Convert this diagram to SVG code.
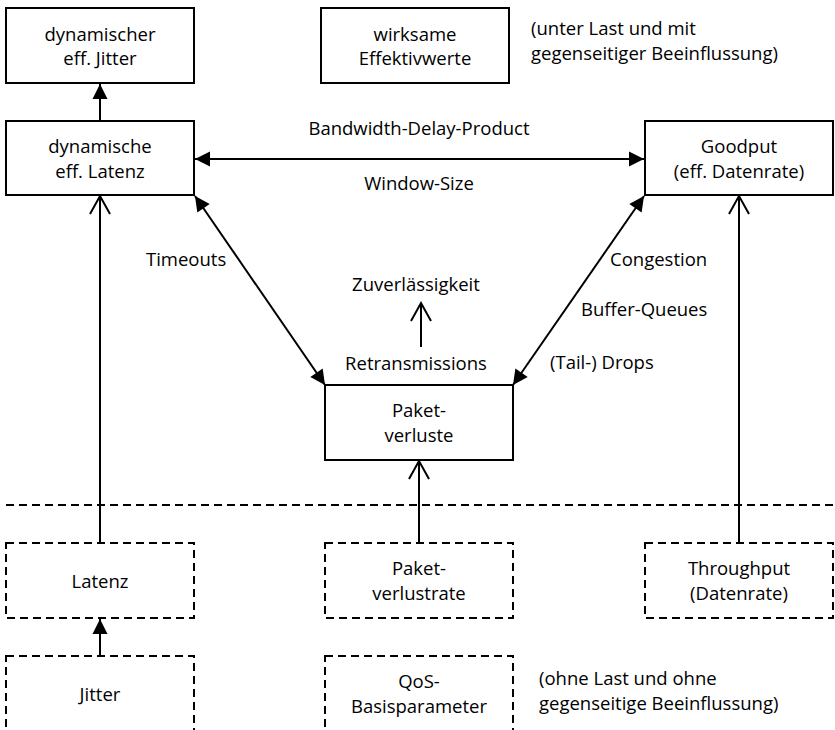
<svg xmlns="http://www.w3.org/2000/svg" width="835" height="730" viewBox="0 0 835 730">
  <style>
    text { font-family: "Open Sans", "Noto Sans", "Liberation Sans", sans-serif; font-size: 18.5px; fill: #000; }
    .c { text-anchor: middle; }
    .box { fill: #fff; stroke: #000; stroke-width: 2; }
    .dbox { fill: #fff; stroke: #000; stroke-width: 2; stroke-dasharray: 8 5; }
    .ln { fill: none; stroke: #000; stroke-width: 2; }
    .sep { fill: none; stroke: #000; stroke-width: 2; stroke-dasharray: 8 5; }
  </style>
  <defs>
    <marker id="filled" markerUnits="userSpaceOnUse" markerWidth="16" markerHeight="16" viewBox="0 0 16 16" refX="15" refY="8" orient="auto-start-reverse" overflow="visible">
      <path d="M0,0.5 L15,8 L0,15.5 z" fill="#000"/>
    </marker>
    <marker id="open" markerUnits="userSpaceOnUse" markerWidth="20" markerHeight="22" viewBox="0 0 20 22" refX="18" refY="11" orient="auto" overflow="visible">
      <path d="M0,1 L18,11 L0,21" fill="none" stroke="#000" stroke-width="2"/>
    </marker>
  </defs>

  <!-- separator between load-dependent and base parameters -->
  <line class="sep" x1="6" y1="505" x2="833" y2="505"/>

  <g id="connectors">
    <line class="ln" x1="100" y1="121" x2="100" y2="84" marker-end="url(#filled)"/>
    <line class="ln" x1="195" y1="159" x2="644" y2="159" marker-start="url(#filled)" marker-end="url(#filled)"/>
    <line class="ln" x1="195" y1="196" x2="325" y2="385" marker-start="url(#filled)" marker-end="url(#filled)"/>
    <line class="ln" x1="644" y1="196" x2="513" y2="385" marker-start="url(#filled)" marker-end="url(#filled)"/>
    <line class="ln" x1="421" y1="347" x2="421" y2="303" marker-end="url(#open)"/>
    <line class="ln" x1="100" y1="543" x2="100" y2="196" marker-end="url(#open)"/>
    <line class="ln" x1="419" y1="543" x2="419" y2="461" marker-end="url(#open)"/>
    <line class="ln" x1="739" y1="543" x2="739" y2="196" marker-end="url(#open)"/>
    <line class="ln" x1="100" y1="656" x2="100" y2="619" marker-end="url(#filled)"/>
  </g>

  <g id="labels">
    <text class="c" x="419" y="135">Bandwidth-Delay-Product</text>
    <text class="c" x="419" y="190">Window-Size</text>
    <text x="146" y="266">Timeouts</text>
    <text x="610" y="266">Congestion</text>
    <text x="581" y="316">Buffer-Queues</text>
    <text x="550" y="369">(Tail-) Drops</text>
    <text class="c" x="416" y="291">Zuverlässigkeit</text>
    <text class="c" x="416" y="370">Retransmissions</text>
    <text x="531" y="35">(unter Last und mit</text>
    <text x="531" y="60">gegenseitiger Beeinflussung)</text>
    <text x="539" y="685">(ohne Last und ohne</text>
    <text x="539" y="710">gegenseitige Beeinflussung)</text>
  </g>

  <g id="dyn-jitter">
    <rect class="box" x="6" y="8" width="188" height="75"/>
    <text class="c" x="100" y="41">dynamischer</text>
    <text class="c" x="100" y="65">eff. Jitter</text>
  </g>
  <g id="wirksame">
    <rect class="box" x="321" y="8" width="188" height="75"/>
    <text class="c" x="415" y="41">wirksame</text>
    <text class="c" x="415" y="65">Effektivwerte</text>
  </g>
  <g id="dyn-latenz">
    <rect class="box" x="6" y="121" width="188" height="74"/>
    <text class="c" x="100" y="153">dynamische</text>
    <text class="c" x="100" y="178">eff. Latenz</text>
  </g>
  <g id="goodput">
    <rect class="box" x="645" y="121" width="188" height="74"/>
    <text class="c" x="739" y="153">Goodput</text>
    <text class="c" x="739" y="178">(eff. Datenrate)</text>
  </g>
  <g id="paketverluste">
    <rect class="box" x="325" y="385" width="188" height="75"/>
    <text class="c" x="419" y="417">Paket-</text>
    <text class="c" x="419" y="442">verluste</text>
  </g>
  <g id="latenz">
    <rect class="dbox" x="6" y="543" width="188" height="75"/>
    <text class="c" x="100" y="588">Latenz</text>
  </g>
  <g id="paketverlustrate">
    <rect class="dbox" x="325" y="543" width="188" height="75"/>
    <text class="c" x="419" y="575">Paket-</text>
    <text class="c" x="419" y="600">verlustrate</text>
  </g>
  <g id="throughput">
    <rect class="dbox" x="645" y="543" width="188" height="75"/>
    <text class="c" x="739" y="575">Throughput</text>
    <text class="c" x="739" y="600">(Datenrate)</text>
  </g>
  <g id="jitter">
    <rect class="dbox" x="6" y="656" width="188" height="75"/>
    <text class="c" x="100" y="701">Jitter</text>
  </g>
  <g id="qos">
    <rect class="dbox" x="325" y="656" width="188" height="75"/>
    <text class="c" x="419" y="688">QoS-</text>
    <text class="c" x="419" y="713">Basisparameter</text>
  </g>
</svg>
